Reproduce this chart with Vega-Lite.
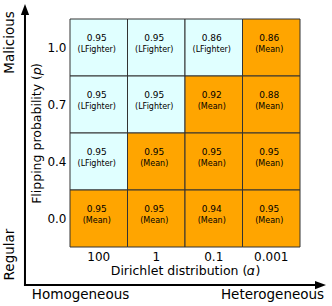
{
  "$schema": "https://vega.github.io/schema/vega-lite/v6.json",
  "width": 230,
  "height": 228,
  "autosize": {"type": "none"},
  "padding": {"left": 70, "top": 19, "right": 32, "bottom": 59},
  "config": {
    "view": {"stroke": null},
    "font": "DejaVu Sans",
    "axis": {
      "labelFont": "DejaVu Sans",
      "titleFont": "DejaVu Sans",
      "labelColor": "#000",
      "titleColor": "#000",
      "titleFontWeight": "normal",
      "ticks": false,
      "domain": false,
      "grid": false,
      "labelFontSize": 12,
      "titleFontSize": 12.5
    }
  },
  "datasets": {
    "cells": [
      {"alpha": "100", "p": "1.0", "acc": "0.95", "method": "LFighter"},
      {"alpha": "1", "p": "1.0", "acc": "0.95", "method": "LFighter"},
      {"alpha": "0.1", "p": "1.0", "acc": "0.86", "method": "LFighter"},
      {"alpha": "0.001", "p": "1.0", "acc": "0.86", "method": "Mean"},
      {"alpha": "100", "p": "0.7", "acc": "0.95", "method": "LFighter"},
      {"alpha": "1", "p": "0.7", "acc": "0.95", "method": "LFighter"},
      {"alpha": "0.1", "p": "0.7", "acc": "0.92", "method": "Mean"},
      {"alpha": "0.001", "p": "0.7", "acc": "0.88", "method": "Mean"},
      {"alpha": "100", "p": "0.4", "acc": "0.95", "method": "LFighter"},
      {"alpha": "1", "p": "0.4", "acc": "0.95", "method": "Mean"},
      {"alpha": "0.1", "p": "0.4", "acc": "0.95", "method": "Mean"},
      {"alpha": "0.001", "p": "0.4", "acc": "0.95", "method": "Mean"},
      {"alpha": "100", "p": "0.0", "acc": "0.95", "method": "Mean"},
      {"alpha": "1", "p": "0.0", "acc": "0.95", "method": "Mean"},
      {"alpha": "0.1", "p": "0.0", "acc": "0.94", "method": "Mean"},
      {"alpha": "0.001", "p": "0.0", "acc": "0.95", "method": "Mean"}
    ],
    "arrows": [
      {"axis": "vertical", "x": -0.783, "y": -0.667, "x2": -0.783, "y2": 4.167},
      {"axis": "horizontal", "x": -0.783, "y": -0.667, "x2": 4.357, "y2": -0.667}
    ],
    "heads": [
      {"dir": "up", "x": -0.783, "y": 4.167},
      {"dir": "right", "x": 4.357, "y": -0.667}
    ],
    "sideLabels": [
      {"text": "Malicious", "x": -1.052, "y": 3.588},
      {"text": "Regular", "x": -1.052, "y": -0.132}
    ],
    "bottomLabels": [
      {"text": "Homogeneous", "x": 0.183, "y": -0.842},
      {"text": "Heterogeneous", "x": 3.522, "y": -0.842}
    ]
  },
  "layer": [
    {
      "data": {"name": "cells"},
      "transform": [{"calculate": "'(' + datum.method + ')'", "as": "label"}],
      "encoding": {
        "x": {
          "field": "alpha",
          "type": "nominal",
          "scale": {"domain": ["100", "1", "0.1", "0.001"], "paddingInner": 0, "paddingOuter": 0},
          "axis": {"title": "Dirichlet distribution (𝛼)", "labelAngle": 0, "labelPadding": 4, "titlePadding": 2}
        },
        "y": {
          "field": "p",
          "type": "nominal",
          "scale": {"domain": ["1.0", "0.7", "0.4", "0.0"], "paddingInner": 0, "paddingOuter": 0},
          "axis": {"title": "Flipping probability (𝑝)", "labelPadding": 4, "titlePadding": 3}
        }
      },
      "layer": [
        {
          "mark": {"type": "rect", "stroke": "#333", "strokeWidth": 1},
          "encoding": {
            "fill": {
              "field": "method",
              "type": "nominal",
              "scale": {"domain": ["LFighter", "Mean"], "range": ["#e0ffff", "#ffa500"]},
              "legend": null
            }
          }
        },
        {
          "mark": {"type": "text", "fontSize": 9, "dy": -9.5, "color": "#000", "dx": -2},
          "encoding": {"text": {"field": "acc"}}
        },
        {
          "mark": {"type": "text", "fontSize": 8, "dy": 2.5, "color": "#000", "dx": -2},
          "encoding": {"text": {"field": "label"}}
        }
      ]
    },
    {
      "layer": [
        {
          "data": {"name": "arrows"},
          "mark": {"type": "rule", "strokeWidth": 2, "color": "#000", "strokeCap": "square"},
          "encoding": {
            "x": {"field": "x", "type": "quantitative", "scale": {"domain": [0, 4], "nice": false, "zero": false}, "axis": null},
            "y": {"field": "y", "type": "quantitative", "scale": {"domain": [0, 4], "nice": false, "zero": false}, "axis": null},
            "x2": {"field": "x2"},
            "y2": {"field": "y2"}
          }
        },
        {
          "data": {"name": "heads"},
          "mark": {"type": "point", "filled": true, "size": 121, "color": "#000", "opacity": 1},
          "encoding": {
            "x": {"field": "x", "type": "quantitative", "axis": null},
            "y": {"field": "y", "type": "quantitative", "axis": null},
            "shape": {
              "field": "dir",
              "type": "nominal",
              "scale": {"domain": ["up", "right"], "range": ["M0,-1L-0.75,1L0.75,1Z", "M1,0L-1,-0.75L-1,0.75Z"]},
              "legend": null
            }
          }
        },
        {
          "data": {"name": "sideLabels"},
          "mark": {"type": "text", "angle": 270, "fontSize": 13.5, "align": "center", "baseline": "middle", "color": "#000"},
          "encoding": {
            "x": {"field": "x", "type": "quantitative", "axis": null},
            "y": {"field": "y", "type": "quantitative", "axis": null},
            "text": {"field": "text"}
          }
        },
        {
          "data": {"name": "bottomLabels"},
          "mark": {"type": "text", "fontSize": 13.5, "align": "center", "baseline": "middle", "color": "#000"},
          "encoding": {
            "x": {"field": "x", "type": "quantitative", "axis": null},
            "y": {"field": "y", "type": "quantitative", "axis": null},
            "text": {"field": "text"}
          }
        }
      ]
    }
  ],
  "resolve": {"scale": {"x": "independent", "y": "independent", "fill": "independent", "shape": "independent"}}
}
